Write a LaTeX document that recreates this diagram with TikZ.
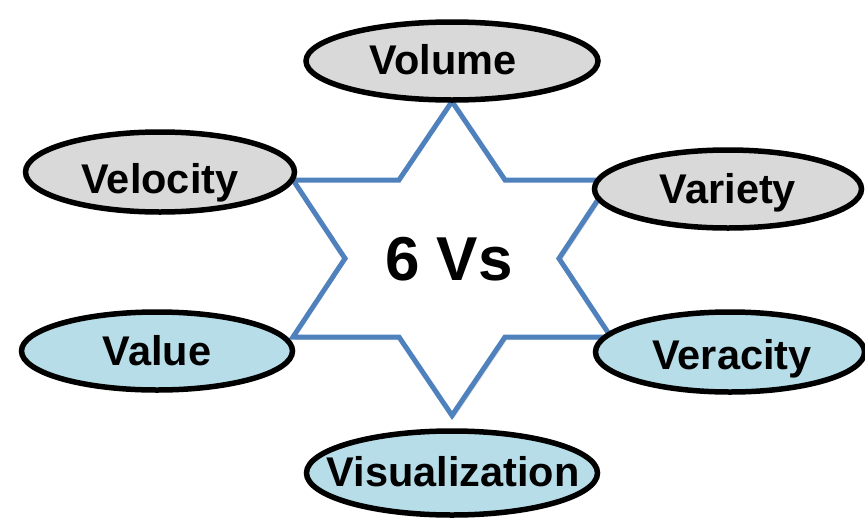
\documentclass[tikz,border=0pt]{standalone}
\usepackage{fontspec}
\setmainfont{Liberation Sans}
\usetikzlibrary{shapes.geometric}
\definecolor{vgray}{HTML}{D9D9D9}
\definecolor{vblue}{HTML}{B7DEE8}
\definecolor{starblue}{HTML}{4F81BD}
\tikzset{
  vbase/.style={ellipse, draw=black, line width=5.5pt, inner sep=0pt,
    minimum width=#1, minimum height=80pt},
  grayv/.style={vbase=#1, fill=vgray},
  bluev/.style={vbase=#1, fill=vblue},
  vlabel/.style={inner sep=0pt, text height=29.7pt, text depth=0pt,
    font=\fontsize{41.5}{48}\selectfont\bfseries},
  biglabel/.style={inner sep=0pt, text height=44.4pt, text depth=0pt,
    font=\fontsize{62}{70}\selectfont\bfseries},
  starline/.style={draw=starblue, line width=5pt, fill=white, line join=miter}
}
\begin{document}
\begin{tikzpicture}[x=1pt,y=-1pt]
\useasboundingbox (0,0) rectangle (865,517);
% shadow of star
\fill[black!25, opacity=0.5] ([shift={(2,3)}]452,101.5) -- ++(53,78.5) -- ++(106,0) -- ++(-52,78.5) -- ++(52,78.5) -- ++(-106,0) -- ++(-53,78.5) -- ++(-53,-78.5) -- ++(-106,0) -- ++(52,-78.5) -- ++(-52,-78.5) -- ++(106,0) -- cycle;
% star
\path[starline] (452,101.5) -- (505,180) -- (611,180) -- (559,258.5) -- (611,337) -- (505,337) -- (452,415.5) -- (399,337) -- (293,337) -- (345,258.5) -- (293,180) -- (399,180) -- cycle;
\node[biglabel] (center) at (449,258) {6 Vs};
% ellipses
\node[grayv=292pt, minimum height=78pt] (volume) at (452,61) {};
\node[vlabel] (volumet) at (443,60) {Volume};
\node[grayv=269pt] (velocity) at (160,172) {};
\node[vlabel] (velocityt) at (160,179) {Velocity};
\node[grayv=267pt, minimum height=78pt] (variety) at (728,189) {};
\node[vlabel] (varietyt) at (728,189) {Variety};
\node[bluev=271pt, minimum height=78pt] (value) at (157,351) {};
\node[vlabel] (valuet) at (157,351) {Value};
\node[bluev=269pt] (veracity) at (730,352) {};
\node[vlabel] (veracityt) at (732,355) {Veracity};
\node[bluev=291pt, minimum height=84pt] (visual) at (452,473) {};
\node[vlabel] (visualt) at (453,472) {Visualization};
\end{tikzpicture}
\end{document}
